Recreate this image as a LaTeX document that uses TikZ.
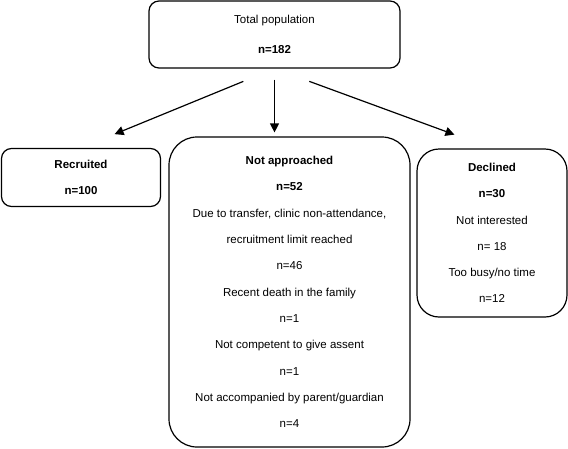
\documentclass[tikz,border=0pt]{standalone}
\usepackage{fontspec}
\setmainfont{Liberation Sans}
\usetikzlibrary{arrows.meta}
\tikzset{box/.style = {draw, line width=1.2pt, rectangle, align=center, inner sep=0pt, font=\fontsize{11.5}{26.3}\selectfont},
         flow/.style = {->, line width=1.2pt, >={Triangle[length=9pt,width=9pt]}}}

\begin{document}
\begin{tikzpicture}[x=1pt,y=-1pt]
    \useasboundingbox (0,0) rectangle (568,448);
    \node[box, rounded corners=10pt, minimum width=251pt, minimum height=67pt](top)at(274.5,34.5){Total population\\[3.7pt]\textbf{n=182}};
    \node[box, rounded corners=10pt, minimum width=159pt, minimum height=58pt](rec)at(81,177.5){\textbf{Recruited}\\\textbf{n=100}};
    \node[box, rounded corners=28pt, minimum width=241pt, minimum height=310pt](nap)at(289.5,292){\textbf{Not approached}\\\textbf{n=52}\\Due to transfer, clinic non-attendance,\\recruitment limit reached\\n=46\\Recent death in the family\\n=1\\Not competent to give assent\\n=1\\Not accompanied by parent/guardian\\n=4};
    \node[box, rounded corners=22pt, minimum width=150pt, minimum height=168pt](dec)at(492,233){\textbf{Declined}\\\textbf{n=30}\\Not interested\\n= 18\\Too busy/no time\\n=12};
    \draw[flow, shorten <=33.7pt, shorten >=36.3pt](top.south)--(rec.north);
    \draw[flow, shorten <=11pt, shorten >=4pt](top.south)--(top.south |- nap.north);
    \draw[flow, shorten <=37pt, shorten >=40pt](top.south)--(dec.north);
\end{tikzpicture}
\end{document}
